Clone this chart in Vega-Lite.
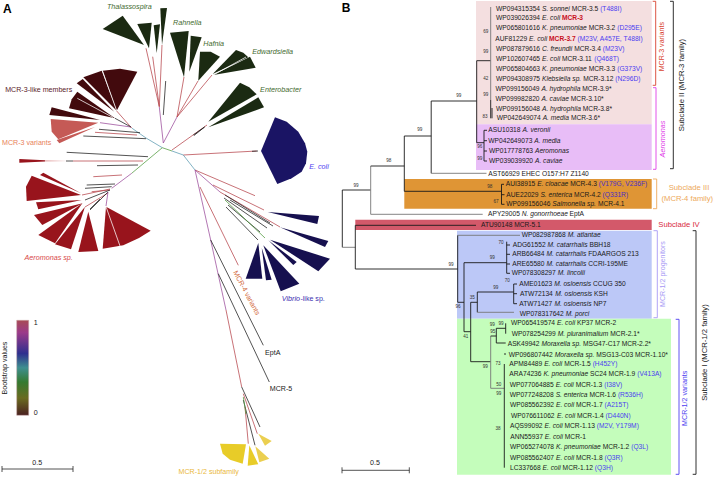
{"$schema":"https://vega.github.io/schema/vega-lite/v6.json","width":714,"height":477,"autosize":{"type":"fit","contains":"padding"},"padding":0,"background":"white","view":{"stroke":null},
"config":{"font":"Liberation Sans","text":{"font":"Liberation Sans"}},
"datasets":{
"bg":[{"x":476,"x2":651.7,"y":1,"y2":124.3,"k":"pink"},{"x":476,"x2":651.7,"y":124.3,"y2":170,"k":"pur"},{"x":404.3,"x2":651.7,"y":179,"y2":208.7,"k":"org"},{"x":355.3,"x2":651.7,"y":219.7,"y2":230,"k":"rd"},{"x":457,"x2":651.7,"y":230.7,"y2":318.7,"k":"blu"},{"x":457,"x2":671,"y":318.7,"y2":474.7,"k":"grn"}],
"poly":[
{"id":"G1","o":1,"x":144,"y":45,"k":"dg"},{"id":"G1","o":2,"x":102.7,"y":29,"k":"dg"},{"id":"G1","o":3,"x":122.7,"y":15.7,"k":"dg"},
{"id":"G2","o":1,"x":149,"y":48.3,"k":"dg"},{"id":"G2","o":2,"x":137.3,"y":24,"k":"dg"},{"id":"G2","o":3,"x":151.7,"y":22.7,"k":"dg"},
{"id":"G3","o":1,"x":156.7,"y":53.3,"k":"dg"},{"id":"G3","o":2,"x":153.7,"y":25.3,"k":"dg"},{"id":"G3","o":3,"x":160,"y":24.3,"k":"dg"},
{"id":"G4","o":1,"x":162,"y":45,"k":"dg"},{"id":"G4","o":2,"x":160.3,"y":8.3,"k":"dg"},{"id":"G4","o":3,"x":167,"y":8,"k":"dg"},
{"id":"G5","o":1,"x":184,"y":77.3,"k":"dg"},{"id":"G5","o":2,"x":170,"y":32.7,"k":"dg"},{"id":"G5","o":3,"x":188.7,"y":31,"k":"dg"},
{"id":"G6","o":1,"x":189.3,"y":71.7,"k":"dg"},{"id":"G6","o":2,"x":190.7,"y":35.7,"k":"dg"},{"id":"G6","o":3,"x":201.7,"y":37.3,"k":"dg"},
{"id":"G7","o":1,"x":198.3,"y":80.7,"k":"dg"},{"id":"G7","o":2,"x":200,"y":51.7,"k":"dg"},{"id":"G7","o":3,"x":210.7,"y":51.7,"k":"dg"},{"id":"G7","o":4,"x":220,"y":56.7,"k":"dg"},
{"id":"G8","o":1,"x":212.7,"y":74,"k":"dg"},{"id":"G8","o":2,"x":236,"y":50,"k":"dg"},{"id":"G8","o":3,"x":243.3,"y":52.7,"k":"dg"},{"id":"G8","o":4,"x":248.3,"y":57.3,"k":"dg"},
{"id":"G9","o":1,"x":213.3,"y":75,"k":"dg"},{"id":"G9","o":2,"x":250,"y":56.7,"k":"dg"},{"id":"G9","o":3,"x":255.7,"y":67.7,"k":"dg"},
{"id":"G10","o":1,"x":208.3,"y":121.7,"k":"dg"},{"id":"G10","o":2,"x":240,"y":82.7,"k":"dg"},{"id":"G10","o":3,"x":249.3,"y":87.3,"k":"dg"},{"id":"G10","o":4,"x":256.7,"y":94.3,"k":"dg"},
{"id":"G11","o":1,"x":208.3,"y":127.3,"k":"dg"},{"id":"G11","o":2,"x":258.3,"y":97.3,"k":"dg"},{"id":"G11","o":3,"x":264,"y":107.3,"k":"dg"},
{"id":"M1","o":1,"x":116.7,"y":110.7,"k":"mar"},{"id":"M1","o":2,"x":102.7,"y":70.7,"k":"mar"},{"id":"M1","o":3,"x":120,"y":68.7,"k":"mar"},{"id":"M1","o":4,"x":137.3,"y":71.7,"k":"mar"},
{"id":"M2","o":1,"x":116.7,"y":110.7,"k":"mar"},{"id":"M2","o":2,"x":83.3,"y":77.3,"k":"mar"},{"id":"M2","o":3,"x":101.7,"y":70.7,"k":"mar"},
{"id":"M3","o":1,"x":114.3,"y":111.7,"k":"mar"},{"id":"M3","o":2,"x":76.7,"y":83.3,"k":"mar"},{"id":"M3","o":3,"x":82.7,"y":79,"k":"mar"},
{"id":"M4","o":1,"x":115,"y":118.3,"k":"mar"},{"id":"M4","o":2,"x":69,"y":108.3,"k":"mar"},{"id":"M4","o":3,"x":71.7,"y":99.3,"k":"mar"},{"id":"M4","o":4,"x":77.3,"y":91.7,"k":"mar"},
{"id":"M5","o":1,"x":100,"y":120,"k":"mar"},{"id":"M5","o":2,"x":49.3,"y":115,"k":"mar"},{"id":"M5","o":3,"x":51.7,"y":107.3,"k":"mar"},
{"id":"V0","o":1,"x":98.3,"y":122.7,"k":"var"},{"id":"V0","o":2,"x":50.7,"y":119,"k":"var"},{"id":"V0","o":3,"x":51.7,"y":131.7,"k":"var"},{"id":"V0","o":4,"x":58.3,"y":139.3,"k":"var"},
{"id":"V1","o":1,"x":95,"y":127,"k":"var"},{"id":"V1","o":2,"x":56.7,"y":140,"k":"var"},{"id":"V1","o":3,"x":59.3,"y":143.3,"k":"var"},
{"id":"F1","o":1,"x":45,"y":160.3,"k":"aer"},{"id":"F1","o":2,"x":19.3,"y":159,"k":"aer"},{"id":"F1","o":3,"x":19.3,"y":162.7,"k":"aer"},{"id":"F1","o":4,"x":45,"y":161.5,"k":"aer"},
{"id":"F2","o":1,"x":68,"y":161,"k":"redl"},{"id":"F2","o":2,"x":45,"y":160.3,"k":"redl"},{"id":"F2","o":3,"x":45,"y":161.5,"k":"redl"},
{"id":"R1","o":1,"x":81,"y":195,"k":"aer"},{"id":"R1","o":2,"x":31.7,"y":175.7,"k":"aer"},{"id":"R1","o":3,"x":26,"y":186.7,"k":"aer"},{"id":"R1","o":4,"x":26.7,"y":201,"k":"aer"},
{"id":"R2","o":1,"x":81,"y":193.3,"k":"aer"},{"id":"R2","o":2,"x":40,"y":175,"k":"aer"},{"id":"R2","o":3,"x":43.3,"y":172.7,"k":"aer"},
{"id":"R3","o":1,"x":81.7,"y":200,"k":"aer"},{"id":"R3","o":2,"x":36,"y":202.3,"k":"aer"},{"id":"R3","o":3,"x":38.3,"y":209.3,"k":"aer"},
{"id":"R4","o":1,"x":82.7,"y":203.3,"k":"aer"},{"id":"R4","o":2,"x":34,"y":215,"k":"aer"},{"id":"R4","o":3,"x":42.3,"y":225,"k":"aer"},
{"id":"R5","o":1,"x":82.3,"y":203.3,"k":"aer"},{"id":"R5","o":2,"x":38.3,"y":235,"k":"aer"},{"id":"R5","o":3,"x":55,"y":243.3,"k":"aer"},
{"id":"R6","o":1,"x":85,"y":206.7,"k":"aer"},{"id":"R6","o":2,"x":55,"y":244.3,"k":"aer"},{"id":"R6","o":3,"x":71,"y":249.3,"k":"aer"},
{"id":"R7","o":1,"x":88.3,"y":211.7,"k":"aer"},{"id":"R7","o":2,"x":78.3,"y":252,"k":"aer"},{"id":"R7","o":3,"x":98.3,"y":251,"k":"aer"},
{"id":"R8","o":1,"x":106,"y":206.7,"k":"aer"},{"id":"R8","o":2,"x":102.7,"y":248.7,"k":"aer"},{"id":"R8","o":3,"x":123.3,"y":245.3,"k":"aer"},{"id":"R8","o":4,"x":139,"y":238,"k":"aer"},{"id":"R8","o":5,"x":150.7,"y":230.7,"k":"aer"},
{"id":"E","o":1,"x":261,"y":151,"k":"ec"},{"id":"E","o":2,"x":275,"y":117.3,"k":"ec"},{"id":"E","o":3,"x":286.7,"y":121.7,"k":"ec"},{"id":"E","o":4,"x":298.3,"y":131.7,"k":"ec"},{"id":"E","o":5,"x":305,"y":143.3,"k":"ec"},{"id":"E","o":6,"x":307.3,"y":151.7,"k":"ec"},{"id":"E","o":7,"x":306,"y":163.3,"k":"ec"},{"id":"E","o":8,"x":301.7,"y":171.7,"k":"ec"},{"id":"E","o":9,"x":291.7,"y":178.3,"k":"ec"},{"id":"E","o":10,"x":277.3,"y":184,"k":"ec"},
{"id":"B1","o":1,"x":267.7,"y":212,"k":"vib"},{"id":"B1","o":2,"x":319,"y":216,"k":"vib"},{"id":"B1","o":3,"x":317.3,"y":224,"k":"vib"},
{"id":"B2","o":1,"x":280,"y":227.3,"k":"vib"},{"id":"B2","o":2,"x":328.3,"y":241,"k":"vib"},{"id":"B2","o":3,"x":325,"y":247,"k":"vib"},
{"id":"B3","o":1,"x":270,"y":239.7,"k":"vib"},{"id":"B3","o":2,"x":330,"y":258.7,"k":"vib"},{"id":"B3","o":3,"x":318.3,"y":271.3,"k":"vib"},
{"id":"B4","o":1,"x":268.3,"y":240.3,"k":"vib"},{"id":"B4","o":2,"x":296.7,"y":262,"k":"vib"},{"id":"B4","o":3,"x":293.3,"y":265,"k":"vib"},
{"id":"B5","o":1,"x":263.3,"y":245.3,"k":"vib"},{"id":"B5","o":2,"x":299.3,"y":283.7,"k":"vib"},{"id":"B5","o":3,"x":280.7,"y":291.3,"k":"vib"},
{"id":"B6","o":1,"x":261.7,"y":247.7,"k":"vib"},{"id":"B6","o":2,"x":271.7,"y":279.7,"k":"vib"},{"id":"B6","o":3,"x":266,"y":280.3,"k":"vib"},
{"id":"B7","o":1,"x":258.3,"y":243,"k":"vib"},{"id":"B7","o":2,"x":262.3,"y":278.7,"k":"vib"},{"id":"B7","o":3,"x":245.7,"y":278.7,"k":"vib"},
{"id":"Y1","o":1,"x":246,"y":444.3,"k":"yl"},{"id":"Y1","o":2,"x":220,"y":443.7,"k":"yl"},{"id":"Y1","o":3,"x":222.7,"y":453.7,"k":"yl"},{"id":"Y1","o":4,"x":230,"y":459.7,"k":"yl"},{"id":"Y1","o":5,"x":242.7,"y":463.7,"k":"yl"},
{"id":"Y2","o":1,"x":249.3,"y":445.3,"k":"yl"},{"id":"Y2","o":2,"x":258.3,"y":464.3,"k":"yl"},{"id":"Y2","o":3,"x":247.7,"y":465.7,"k":"yl"},
{"id":"Y3","o":1,"x":255.3,"y":446.3,"k":"yl2"},{"id":"Y3","o":2,"x":269.3,"y":458.7,"k":"yl2"},{"id":"Y3","o":3,"x":259.3,"y":462.3,"k":"yl2"},
{"id":"Y4","o":1,"x":258.3,"y":433.7,"k":"yl2"},{"id":"Y4","o":2,"x":271.7,"y":441,"k":"yl2"},{"id":"Y4","o":3,"x":265,"y":445.7,"k":"yl2"}
],
"atree":[
{"x":163.3,"y":143,"x2":159.3,"y2":107,"k":"p"},{"x":159.3,"y":106.7,"x2":146,"y2":48.3,"k":"r"},{"x":159.3,"y":106.7,"x2":152.7,"y2":56.7,"k":"r"},{"x":159.3,"y":106.7,"x2":162,"y2":45,"k":"r"},{"x":165.7,"y":81,"x2":163.3,"y2":115,"k":"k"},
{"x":163.3,"y":143,"x2":177,"y2":117,"k":"p"},{"x":177,"y":117,"x2":184,"y2":77,"k":"r"},{"x":177,"y":117,"x2":198,"y2":81,"k":"r"},{"x":177,"y":117,"x2":212,"y2":75,"k":"r"},
{"x":172,"y":150,"x2":207,"y2":125,"k":"r"},{"x":193.3,"y":135,"x2":205,"y2":126.7,"k":"k"},{"x":194,"y":135.5,"x2":204,"y2":127.5,"k":"k"},
{"x":162.3,"y":147.7,"x2":172,"y2":151,"k":"g"},{"x":172,"y":151,"x2":183.3,"y2":155,"k":"t"},{"x":183.3,"y":155,"x2":256.7,"y2":151,"k":"r"},{"x":252,"y":151.3,"x2":258,"y2":151,"k":"k"},{"x":183.3,"y":155,"x2":195,"y2":170,"k":"t"},
{"x":195,"y":170,"x2":255,"y2":195.7,"k":"r"},{"x":195,"y":170,"x2":220,"y2":192,"k":"p"},{"x":213,"y":185,"x2":264,"y2":210,"k":"r"},{"x":220,"y":192,"x2":280,"y2":227,"k":"r"},
{"x":225,"y":195,"x2":270,"y2":223,"k":"k"},{"x":224,"y":198,"x2":267,"y2":228,"k":"k"},{"x":228,"y":205,"x2":260,"y2":232,"k":"k"},{"x":226,"y":207,"x2":258,"y2":240,"k":"k"},{"x":230,"y":200,"x2":273,"y2":226,"k":"k"},{"x":225,"y":200,"x2":265,"y2":238,"k":"g"},
{"x":195,"y":170,"x2":210,"y2":237,"k":"p"},{"x":210,"y":237,"x2":226,"y2":310,"k":"p"},{"x":226,"y":310,"x2":241.7,"y2":387,"k":"r"},{"x":200,"y":187,"x2":238.3,"y2":265.3,"k":"r"},
{"x":210.7,"y":240,"x2":263.3,"y2":345.3,"k":"k"},{"x":218.3,"y":273.7,"x2":269.3,"y2":382,"k":"k"},
{"x":241.7,"y":387,"x2":260,"y2":427,"k":"k"},{"x":243.3,"y":393.7,"x2":257.3,"y2":433.7,"k":"r"},{"x":243.3,"y":400,"x2":255,"y2":445.3,"k":"k"},{"x":245,"y":407,"x2":248.3,"y2":443.7,"k":"r"},{"x":243.3,"y":397,"x2":246,"y2":414,"k":"g"},
{"x":162.3,"y":147.7,"x2":131.7,"y2":173.3,"k":"g"},{"x":131.7,"y":173.3,"x2":111.7,"y2":188.3,"k":"p"},
{"x":110,"y":189,"x2":82,"y2":195,"k":"r"},{"x":86.7,"y":185,"x2":115,"y2":184,"k":"k"},{"x":85,"y":188.3,"x2":111.7,"y2":186.7,"k":"k"},{"x":91.7,"y":191.7,"x2":110,"y2":190,"k":"r"},{"x":110,"y":190,"x2":85,"y2":200,"k":"k"},{"x":108,"y":193,"x2":85,"y2":207,"k":"r"},{"x":108,"y":192,"x2":90,"y2":210,"k":"k"},{"x":100,"y":199,"x2":90,"y2":209,"k":"k"},{"x":108,"y":192,"x2":106,"y2":206,"k":"p"},
{"x":93.3,"y":176.7,"x2":122,"y2":175,"k":"r"},{"x":97,"y":165.7,"x2":138,"y2":165,"k":"k"},{"x":66.7,"y":152.3,"x2":148,"y2":156.7,"k":"k"},{"x":73,"y":161,"x2":143,"y2":161,"k":"r"},{"x":66,"y":161,"x2":73,"y2":161,"k":"k"},
{"x":162.3,"y":147.7,"x2":146,"y2":138,"k":"t"},{"x":146,"y":138,"x2":131.7,"y2":128,"k":"t"},{"x":131.7,"y":128,"x2":116.7,"y2":111,"k":"r"},{"x":83.3,"y":136,"x2":146,"y2":138.7,"k":"k"},{"x":95,"y":132.3,"x2":137,"y2":135,"k":"r"},{"x":99,"y":129.3,"x2":140,"y2":132.7,"k":"k"},{"x":100,"y":122.7,"x2":131,"y2":127,"k":"p"},{"x":115,"y":118.3,"x2":131,"y2":127,"k":"k"},
{"x":2,"y":469,"x2":73,"y2":469,"k":"k"},{"x":2,"y":466,"x2":2,"y2":472,"k":"k"},{"x":73,"y":466,"x2":73,"y2":472,"k":"k"},
{"x":342,"y":470.3,"x2":409.3,"y2":470.3,"k":"k"},{"x":342,"y":467.3,"x2":342,"y2":473.3,"k":"k"},{"x":409.3,"y":467.3,"x2":409.3,"y2":473.3,"k":"k"},
{"x":116.7,"y":110.7,"x2":102.4,"y2":70.7,"k":"w"},{"x":113,"y":117.5,"x2":77.3,"y2":98.3,"k":"w"},{"x":106,"y":206.7,"x2":120,"y2":246,"k":"w"},{"x":213.3,"y":75,"x2":246,"y2":57,"k":"w"}
],
"btree":[
{"x":342.3,"y":190,"x2":342.3,"y2":247.3,"k":"k"},{"x":342.3,"y":190,"x2":370.7,"y2":190,"k":"k"},{"x":342.3,"y":247.3,"x2":355.3,"y2":247.3,"k":"gr"},{"x":370.7,"y":166,"x2":370.7,"y2":214.3,"k":"gr"},{"x":370.7,"y":166,"x2":404.3,"y2":166,"k":"k"},{"x":370.7,"y":214.3,"x2":482.7,"y2":214.3,"k":"gr"},{"x":404.3,"y":136,"x2":404.3,"y2":191.3,"k":"k"},{"x":404.3,"y":136,"x2":431.2,"y2":136,"k":"k"},{"x":404.3,"y":191.3,"x2":501.5,"y2":191.3,"k":"k"},{"x":501.5,"y":184.3,"x2":501.5,"y2":204.3,"k":"k"},{"x":501.5,"y":184.3,"x2":504,"y2":184.3,"k":"k"},{"x":501.5,"y":194.7,"x2":504.5,"y2":194.7,"k":"k"},{"x":501.5,"y":204.3,"x2":504.5,"y2":204.3,"k":"k"},
{"x":431.2,"y":101,"x2":431.2,"y2":173.3,"k":"k"},{"x":431.2,"y":101,"x2":476.7,"y2":101,"k":"k"},{"x":431.2,"y":173.3,"x2":486.5,"y2":173.3,"k":"gr"},{"x":476.7,"y":60.7,"x2":476.7,"y2":142.7,"k":"k"},{"x":476.7,"y":60.7,"x2":490.7,"y2":60.7,"k":"k"},{"x":476.7,"y":142.7,"x2":484,"y2":142.7,"k":"k"},
{"x":490.7,"y":7,"x2":490.7,"y2":100,"k":"gr"},{"x":490.7,"y":100,"x2":490.7,"y2":118.3,"k":"k"},{"x":492,"y":108,"x2":492,"y2":118.3,"k":"k"},
{"x":484,"y":130.3,"x2":484,"y2":161,"k":"k"},{"x":484,"y":130.3,"x2":487,"y2":130.3,"k":"k"},{"x":484,"y":140.7,"x2":487,"y2":140.7,"k":"k"},{"x":484,"y":151,"x2":487,"y2":151,"k":"k"},{"x":484,"y":161,"x2":487,"y2":161,"k":"k"},
{"x":355.3,"y":225.3,"x2":355.3,"y2":269,"k":"k"},{"x":355.3,"y":225.3,"x2":476,"y2":225.3,"k":"k"},{"x":355.3,"y":269,"x2":457.7,"y2":269,"k":"k"},{"x":457.7,"y":235.3,"x2":457.7,"y2":302.3,"k":"k"},{"x":457.7,"y":235.3,"x2":520,"y2":235.3,"k":"gr"},{"x":457.7,"y":302.3,"x2":464,"y2":302.3,"k":"k"},{"x":464,"y":262.7,"x2":464,"y2":331.7,"k":"k"},{"x":464,"y":262.7,"x2":506.7,"y2":262.7,"k":"k"},{"x":464,"y":331.7,"x2":470.7,"y2":331.7,"k":"k"},
{"x":506.7,"y":241.7,"x2":506.7,"y2":273.3,"k":"k"},{"x":506.7,"y":245,"x2":510,"y2":245,"k":"k"},{"x":506.7,"y":254.3,"x2":510,"y2":254.3,"k":"k"},{"x":506.7,"y":264,"x2":510,"y2":264,"k":"k"},{"x":506.7,"y":273.3,"x2":510,"y2":273.3,"k":"k"},
{"x":470.7,"y":302.3,"x2":470.7,"y2":361.7,"k":"k"},{"x":470.7,"y":302.3,"x2":477.3,"y2":302.3,"k":"k"},{"x":477.3,"y":292,"x2":477.3,"y2":312.3,"k":"k"},{"x":477.3,"y":292,"x2":513.7,"y2":292,"k":"k"},{"x":477.3,"y":312.3,"x2":514,"y2":312.3,"k":"gr"},{"x":513.7,"y":284,"x2":513.7,"y2":303.7,"k":"k"},{"x":513.7,"y":284,"x2":517,"y2":284,"k":"k"},{"x":513.7,"y":293.7,"x2":517,"y2":293.7,"k":"k"},{"x":513.7,"y":303.7,"x2":517,"y2":303.7,"k":"k"},
{"x":470.7,"y":361.7,"x2":490.7,"y2":361.7,"k":"k"},{"x":490.7,"y":336,"x2":490.7,"y2":388.3,"k":"gr"},{"x":490.7,"y":336,"x2":496.3,"y2":336,"k":"k"},{"x":496.3,"y":328.3,"x2":496.3,"y2":343,"k":"k"},{"x":496.3,"y":328.3,"x2":505.7,"y2":328.3,"k":"k"},{"x":496.3,"y":343,"x2":505.7,"y2":343,"k":"k"},{"x":505.7,"y":323.3,"x2":505.7,"y2":333.7,"k":"k"},{"x":490.7,"y":388.3,"x2":504.3,"y2":388.3,"k":"gr"},{"x":504.3,"y":364,"x2":504.3,"y2":467.7,"k":"k"},{"x":504,"y":354,"x2":506,"y2":354,"k":"k"},
{"x":655.7,"y":1.3,"x2":655.7,"y2":85.3,"k":"tmv"},{"x":652.7,"y":1.3,"x2":655.7,"y2":1.3,"k":"tmv"},{"x":652.7,"y":85.3,"x2":655.7,"y2":85.3,"k":"tmv"},
{"x":656,"y":87.7,"x2":656,"y2":169.3,"k":"tae"},{"x":653,"y":87.7,"x2":656,"y2":87.7,"k":"tae"},{"x":653,"y":169.3,"x2":656,"y2":169.3,"k":"tae"},
{"x":673.3,"y":1.3,"x2":673.3,"y2":168.7,"k":"k"},{"x":670,"y":1.3,"x2":673.3,"y2":1.3,"k":"k"},{"x":670,"y":168.7,"x2":673.3,"y2":168.7,"k":"k"},
{"x":656.7,"y":179,"x2":656.7,"y2":208.7,"k":"tsIII"},{"x":653,"y":179,"x2":656.7,"y2":179,"k":"tsIII"},{"x":653,"y":208.7,"x2":656.7,"y2":208.7,"k":"tsIII"},
{"x":657.3,"y":230.7,"x2":657.3,"y2":317.7,"k":"tpro"},{"x":653.5,"y":230.7,"x2":657.3,"y2":230.7,"k":"tpro"},{"x":653.5,"y":317.7,"x2":657.3,"y2":317.7,"k":"tpro"},
{"x":679,"y":319.3,"x2":679,"y2":474.3,"k":"tmv12"},{"x":675.7,"y":319.3,"x2":679,"y2":319.3,"k":"tmv12"},{"x":675.7,"y":474.3,"x2":679,"y2":474.3,"k":"tmv12"},
{"x":696,"y":230.7,"x2":696,"y2":474.3,"k":"k"},{"x":692.7,"y":230.7,"x2":696,"y2":230.7,"k":"k"},{"x":692.7,"y":474.3,"x2":696,"y2":474.3,"k":"k"}
],
"sup":[{"x":356,"y":186,"t":"99"},{"x":388.7,"y":160.7,"t":"98"},{"x":419.7,"y":130.3,"t":"99"},{"x":489.7,"y":186.7,"t":"98"},{"x":496,"y":202,"t":"67"},{"x":458.7,"y":96.3,"t":"99"},{"x":485.7,"y":31.7,"t":"69"},{"x":485.7,"y":52,"t":"99"},{"x":485.7,"y":78.7,"t":"42"},{"x":485.7,"y":95,"t":"99"},{"x":485,"y":117,"t":"83"},{"x":479.7,"y":147,"t":"96"},{"x":479.7,"y":159.3,"t":"99"},{"x":451,"y":265,"t":"99"},{"x":458,"y":307.3,"t":"96"},{"x":465.7,"y":337.3,"t":"41"},{"x":492.3,"y":258.3,"t":"99"},{"x":472.3,"y":297.7,"t":"35"},{"x":495.7,"y":287.7,"t":"99"},{"x":507.3,"y":281,"t":"70"},{"x":501,"y":242.7,"t":"70"},{"x":485.3,"y":367,"t":"99"},{"x":492.7,"y":331.7,"t":"95"},{"x":492.3,"y":325.3,"t":"99"},{"x":501,"y":324,"t":"99"},{"x":498.7,"y":384.7,"t":"50"},{"x":498.7,"y":394,"t":"99"},{"x":498,"y":364.3,"t":"73"},{"x":498,"y":429.3,"t":"38"}],
"lab":[
{"x":496,"y":8.7,"t":"WP094315354","k":"k","f":"n"},{"x":541.98,"y":8.7,"t":"S. sonnei","k":"k","f":"i"},{"x":571.64,"y":8.7,"t":"MCR-3.5","k":"k","f":"n"},{"x":600.14,"y":8.7,"t":"(T488I)","k":"mut","f":"n"},
{"x":496,"y":18.3,"t":"WP039026394","k":"k","f":"n"},{"x":541.98,"y":18.3,"t":"E. coli","k":"k","f":"i"},{"x":561.98,"y":18.3,"t":"MCR-3","k":"redb","f":"b"},
{"x":496,"y":28,"t":"WP065801616","k":"k","f":"n"},{"x":541.98,"y":28,"t":"K. pneumoniae","k":"k","f":"i"},{"x":588.68,"y":28,"t":"MCR-3.2","k":"k","f":"n"},{"x":617.18,"y":28,"t":"(D295E)","k":"mut","f":"n"},
{"x":495.3,"y":38.7,"t":"AUF81229","k":"k","f":"n"},{"x":529.04,"y":38.7,"t":"E. coli","k":"k","f":"i"},{"x":549.04,"y":38.7,"t":"MCR-3.7","k":"redb","f":"b"},{"x":577.54,"y":38.7,"t":"(M23V, A457E, T488I)","k":"mut","f":"n"},
{"x":496,"y":48.7,"t":"WP087879616","k":"k","f":"n"},{"x":541.98,"y":48.7,"t":"C. freundii","k":"k","f":"i"},{"x":574.23,"y":48.7,"t":"MCR-3.4","k":"k","f":"n"},{"x":602.73,"y":48.7,"t":"(M23V)","k":"mut","f":"n"},
{"x":496,"y":59,"t":"WP102607465","k":"k","f":"n"},{"x":541.98,"y":59,"t":"E. coli","k":"k","f":"i"},{"x":561.98,"y":59,"t":"MCR-3.11","k":"k","f":"n"},{"x":594.18,"y":59,"t":"(Q468T)","k":"mut","f":"n"},
{"x":496,"y":68.7,"t":"WP065804663","k":"k","f":"n"},{"x":541.98,"y":68.7,"t":"K. pneumoniae","k":"k","f":"i"},{"x":588.68,"y":68.7,"t":"MCR-3.3","k":"k","f":"n"},{"x":617.18,"y":68.7,"t":"(G373V)","k":"mut","f":"n"},
{"x":496,"y":78.7,"t":"WP094308975","k":"k","f":"n"},{"x":541.98,"y":78.7,"t":"Klebsiella sp.","k":"k","f":"i"},{"x":583.13,"y":78.7,"t":"MCR-3.12","k":"k","f":"n"},{"x":615.33,"y":78.7,"t":"(N296D)","k":"mut","f":"n"},
{"x":495.5,"y":89,"t":"WP099156049","k":"k","f":"n"},{"x":541.48,"y":89,"t":"A. hydrophila","k":"k","f":"i"},{"x":582.28,"y":89,"t":"MCR-3.9*","k":"k","f":"n"},
{"x":495.5,"y":98.7,"t":"WP099982820","k":"k","f":"n"},{"x":541.48,"y":98.7,"t":"A. caviae","k":"k","f":"i"},{"x":570.78,"y":98.7,"t":"MCR-3.10*","k":"k","f":"n"},
{"x":496,"y":108.7,"t":"WP099156048","k":"k","f":"n"},{"x":541.98,"y":108.7,"t":"A. hydrophila","k":"k","f":"i"},{"x":582.78,"y":108.7,"t":"MCR-3.8*","k":"k","f":"n"},
{"x":496.7,"y":118.3,"t":"WP042649074","k":"k","f":"n"},{"x":542.68,"y":118.3,"t":"A. media","k":"k","f":"i"},{"x":570.88,"y":118.3,"t":"MCR-3.6*","k":"k","f":"n"},
{"x":488.3,"y":130.3,"t":"ASU10318","k":"k","f":"n"},{"x":522.4,"y":130.3,"t":"A. veronii","k":"k","f":"i"},
{"x":488.3,"y":140.7,"t":"WP042649073","k":"k","f":"n"},{"x":534.28,"y":140.7,"t":"A. media","k":"k","f":"i"},
{"x":489,"y":151,"t":"WP017778763","k":"k","f":"n"},{"x":534.98,"y":151,"t":"Aeromonas","k":"k","f":"i"},
{"x":489,"y":161,"t":"WP039039920","k":"k","f":"n"},{"x":534.98,"y":161,"t":"A. caviae","k":"k","f":"i"},
{"x":488.3,"y":174.3,"t":"AST66929 EHEC O157:H7 Z1140","k":"k","f":"n"},
{"x":505.7,"y":184.3,"t":"AUI38915","k":"k","f":"n"},{"x":537.2,"y":184.3,"t":"E. cloacae","k":"k","f":"i"},{"x":570.2,"y":184.3,"t":"MCR-4.3","k":"k","f":"n"},{"x":598.7,"y":184.3,"t":"(V179G, V236F)","k":"mut2","f":"n"},
{"x":506.3,"y":194.7,"t":"AUE22029","k":"k","f":"n"},{"x":540.4,"y":194.7,"t":"S. enterica","k":"k","f":"i"},{"x":574.1,"y":194.7,"t":"MCR-4.2","k":"k","f":"n"},{"x":602.6,"y":194.7,"t":"(Q331R)","k":"mut2","f":"n"},
{"x":506.3,"y":204.3,"t":"WP099156046","k":"k","f":"n"},{"x":552.28,"y":204.3,"t":"Salmonella sp.","k":"k","f":"i"},{"x":597.88,"y":204.3,"t":"MCR-4.1","k":"k","f":"n"},
{"x":488,"y":214.3,"t":"APY29005","k":"k","f":"n"},{"x":521.7,"y":214.3,"t":"N. gonorrhoeae","k":"k","f":"i"},{"x":569.6,"y":214.3,"t":"EptA","k":"k","f":"n"},
{"x":481,"y":225.3,"t":"ATU90148 MCR-5.1","k":"k","f":"n"},
{"x":521.7,"y":235.3,"t":"WP082987868","k":"k","f":"n"},{"x":567.68,"y":235.3,"t":"M. atlantae","k":"k","f":"i"},
{"x":512.7,"y":245,"t":"ADG61552","k":"k","f":"n"},{"x":547.55,"y":245,"t":"M. catarrhalis","k":"k","f":"i"},{"x":589.45,"y":245,"t":"BBH18","k":"k","f":"n"},
{"x":512.3,"y":254.3,"t":"ARB66484","k":"k","f":"n"},{"x":546.4,"y":254.3,"t":"M. catarrhalis","k":"k","f":"i"},{"x":588.3,"y":254.3,"t":"FDAARGOS 213","k":"k","f":"n"},
{"x":512.3,"y":264,"t":"ARE65580","k":"k","f":"n"},{"x":546.4,"y":264,"t":"M. catarrhalis","k":"k","f":"i"},{"x":588.3,"y":264,"t":"CCRI-195ME","k":"k","f":"n"},
{"x":511.7,"y":273.3,"t":"WP078308297","k":"k","f":"n"},{"x":557.68,"y":273.3,"t":"M. lincolii","k":"k","f":"i"},
{"x":519.3,"y":284,"t":"AME01623","k":"k","f":"n"},{"x":554.15,"y":284,"t":"M. osloensis","k":"k","f":"i"},{"x":593.05,"y":284,"t":"CCUG 350","k":"k","f":"n"},
{"x":520,"y":293.7,"t":"ATW72134","k":"k","f":"n"},{"x":555.2,"y":293.7,"t":"M. osloensis","k":"k","f":"i"},{"x":594.1,"y":293.7,"t":"KSH","k":"k","f":"n"},
{"x":519.3,"y":303.7,"t":"ATW71427","k":"k","f":"n"},{"x":554.5,"y":303.7,"t":"M. osloensis","k":"k","f":"i"},{"x":593.4,"y":303.7,"t":"NP7","k":"k","f":"n"},
{"x":519.7,"y":314,"t":"WP078317642","k":"k","f":"n"},{"x":565.68,"y":314,"t":"M. porci","k":"k","f":"i"},
{"x":511,"y":323.3,"t":"WP065419574","k":"k","f":"n"},{"x":556.98,"y":323.3,"t":"E. coli","k":"k","f":"i"},{"x":576.98,"y":323.3,"t":"KP37 MCR-2","k":"k","f":"n"},
{"x":511.7,"y":333.7,"t":"WP078254299","k":"k","f":"n"},{"x":557.68,"y":333.7,"t":"M. pluranimalium","k":"k","f":"i"},{"x":610.28,"y":333.7,"t":"MCR-2.1*","k":"k","f":"n"},
{"x":507.7,"y":344.3,"t":"ASK49942","k":"k","f":"n"},{"x":541.4,"y":344.3,"t":"Moraxella sp.","k":"k","f":"i"},{"x":582.9,"y":344.3,"t":"MSG47-C17 MCR-2.2*","k":"k","f":"n"},
{"x":508.7,"y":354.7,"t":"WP096807442","k":"k","f":"n"},{"x":554.68,"y":354.7,"t":"Moraxella sp.","k":"k","f":"i"},{"x":596.18,"y":354.7,"t":"MSG13-C03 MCR-1.10*","k":"k","f":"n"},
{"x":509.3,"y":364.3,"t":"APM84489","k":"k","f":"n"},{"x":544.15,"y":364.3,"t":"E. coli","k":"k","f":"i"},{"x":564.15,"y":364.3,"t":"MCR-1.5","k":"k","f":"n"},{"x":592.65,"y":364.3,"t":"(H452Y)","k":"mut","f":"n"},
{"x":509.3,"y":374.3,"t":"ARA74236","k":"k","f":"n"},{"x":543.4,"y":374.3,"t":"K. pneumoniae","k":"k","f":"i"},{"x":590.1,"y":374.3,"t":"SC24 MCR-1.9","k":"k","f":"n"},{"x":637.17,"y":374.3,"t":"(V413A)","k":"mut","f":"n"},
{"x":509.7,"y":384.7,"t":"WP077064885","k":"k","f":"n"},{"x":555.68,"y":384.7,"t":"E. coli","k":"k","f":"i"},{"x":575.68,"y":384.7,"t":"MCR-1.3","k":"k","f":"n"},{"x":604.18,"y":384.7,"t":"(I38V)","k":"mut","f":"n"},
{"x":509.7,"y":394.7,"t":"WP077248208","k":"k","f":"n"},{"x":555.68,"y":394.7,"t":"S. enterica","k":"k","f":"i"},{"x":589.38,"y":394.7,"t":"MCR-1.6","k":"k","f":"n"},{"x":617.88,"y":394.7,"t":"(R536H)","k":"mut","f":"n"},
{"x":510,"y":405,"t":"WP085562392","k":"k","f":"n"},{"x":555.98,"y":405,"t":"E. coli","k":"k","f":"i"},{"x":575.98,"y":405,"t":"MCR-1.7","k":"k","f":"n"},{"x":604.48,"y":405,"t":"(A215T)","k":"mut","f":"n"},
{"x":511,"y":415.7,"t":"WP076611062","k":"k","f":"n"},{"x":556.98,"y":415.7,"t":"E. coli","k":"k","f":"i"},{"x":576.98,"y":415.7,"t":"MCR-1.4","k":"k","f":"n"},{"x":605.48,"y":415.7,"t":"(D440N)","k":"mut","f":"n"},
{"x":510,"y":426,"t":"AQS99092","k":"k","f":"n"},{"x":544.5,"y":426,"t":"E. coli","k":"k","f":"i"},{"x":564.5,"y":426,"t":"MCR-1.13","k":"k","f":"n"},{"x":596.7,"y":426,"t":"(M2V, Y179M)","k":"mut","f":"n"},
{"x":510.3,"y":437,"t":"ANN55937","k":"k","f":"n"},{"x":544.8,"y":437,"t":"E. coli","k":"k","f":"i"},{"x":564.8,"y":437,"t":"MCR-1","k":"k","f":"n"},
{"x":510,"y":447.3,"t":"WP065274078","k":"k","f":"n"},{"x":555.98,"y":447.3,"t":"K. pneumoniae","k":"k","f":"i"},{"x":602.68,"y":447.3,"t":"MCR-1.2","k":"k","f":"n"},{"x":631.18,"y":447.3,"t":"(Q3L)","k":"mut","f":"n"},
{"x":510,"y":457.7,"t":"WP085562407","k":"k","f":"n"},{"x":555.98,"y":457.7,"t":"E. coli","k":"k","f":"i"},{"x":575.98,"y":457.7,"t":"MCR-1.8","k":"k","f":"n"},{"x":604.48,"y":457.7,"t":"(Q3R)","k":"mut","f":"n"},
{"x":510,"y":467.7,"t":"LC337668","k":"k","f":"n"},{"x":542.6,"y":467.7,"t":"E. coli","k":"k","f":"i"},{"x":562.6,"y":467.7,"t":"MCR-1.12","k":"k","f":"n"},{"x":594.8,"y":467.7,"t":"(Q3H)","k":"mut","f":"n"}
],
"ann":[
{"x":129.3,"y":6.7,"t":"Thalassospira","k":"tgreen","f":"i","a":0},{"x":187.3,"y":23.3,"t":"Rahnella","k":"tgreen","f":"i","a":0},{"x":213.7,"y":44.3,"t":"Hafnia","k":"tgreen","f":"i","a":0},{"x":272.7,"y":52,"t":"Edwardsiella","k":"tgreen","f":"i","a":0},{"x":280.7,"y":90.3,"t":"Enterobacter","k":"tgreen","f":"i","a":0},
{"x":38.7,"y":90.3,"t":"MCR-3-like members","k":"tmar","f":"n","a":0},{"x":26.7,"y":142.7,"t":"MCR-3 variants","k":"tvar","f":"n","a":0},{"x":319,"y":167,"t":"E. coli","k":"tec","f":"i","a":0},{"x":48.7,"y":257.7,"t":"Aeromonas sp.","k":"taer","f":"i","a":0},
{"x":290.9,"y":298.7,"t":"Vibrio","k":"tvib","f":"i","a":0},{"x":312.6,"y":298.7,"t":"-like sp.","k":"tvib","f":"n","a":0},
{"x":246.3,"y":293,"t":"MCR-4 variants","k":"tm4","f":"n","a":62},{"x":208.7,"y":471.7,"t":"MCR-1/2 subfamily","k":"tyl","f":"n","a":0},{"x":272.7,"y":352.7,"t":"EptA","k":"k","f":"n","a":0},{"x":281,"y":388.7,"t":"MCR-5","k":"k","f":"n","a":0},
{"x":37.3,"y":463,"t":"0.5","k":"k","f":"n","a":0},{"x":375,"y":463.3,"t":"0.5","k":"k","f":"n","a":0},
{"x":5.3,"y":368,"t":"Bootstrap values","k":"k","f":"n","a":270},{"x":35.7,"y":323,"t":"1","k":"k","f":"n","a":0},{"x":35.7,"y":413,"t":"0","k":"k","f":"n","a":0},
{"x":662,"y":46.7,"t":"MCR-3 variants","k":"tmv","f":"n","a":270},{"x":662.7,"y":139,"t":"Aeromonas","k":"tae","f":"i","a":270},{"x":663.3,"y":274,"t":"MCR-1/2 progenitors","k":"tpro","f":"n","a":270},{"x":685,"y":398.3,"t":"MCR-1/2 variants","k":"tmv12","f":"n","a":270},
{"x":681.7,"y":85,"t":"Subclade II (MCR-3 family)","k":"k","f":"L","a":270},{"x":705,"y":352.5,"t":"Subclade I (MCR-1/2 family)","k":"k","f":"L","a":270},{"x":689,"y":188.3,"t":"Subclade III","k":"tsIII","f":"L","a":0},{"x":687.3,"y":198.7,"t":"(MCR-4 family)","k":"tsIII","f":"L","a":0},{"x":679,"y":225.3,"t":"Subclade IV","k":"tsIV","f":"L","a":0}
]},
"encoding":{
"x":{"field":"x","type":"quantitative","scale":{"domain":[0,714],"nice":false,"zero":false},"axis":null},
"y":{"field":"y","type":"quantitative","scale":{"domain":[477,0],"nice":false,"zero":false},"axis":null},
"color":{"field":"k","type":"nominal","legend":null,"scale":{
"domain":["pink","pur","org","rd","blu","grn","dg","mar","var","aer","redl","ec","vib","yl","yl2","k","gr","r","p","t","g","w","mut","mut2","redb","tgreen","tmar","tvar","tec","taer","tvib","tm4","tyl","tmv","tae","tpro","tmv12","tsIII","tsIV"],
"range":["#f4dfe0","#e8bdf7","#df9535","#d3596a","#bcc8f7","#c4fdbb","#1b2a12","#420a0d","#c55a56","#98141c","#e3a8a8","#1a1464","#16104f","#e8cc28","#ebcf50","#1a1a1a","#777777","#b5434a","#9a4a9a","#5a9ab0","#4f9a3c","#ffffff","#4b3df0","#4a2fc0","#c8101c","#3f6b2f","#5a1a2a","#e8825a","#5040f0","#d84848","#3a2fb0","#d2693c","#eab83a","#d9432f","#e040e8","#a89af5","#4e3ef0","#eda95b","#d92b3f"]}}},
"layer":[
{"data":{"name":"bg"},"mark":{"type":"rect"},"encoding":{"x2":{"field":"x2"},"y2":{"field":"y2"}}},
{"data":{"name":"poly"},"mark":{"type":"line","filled":true,"strokeWidth":0,"interpolate":"linear-closed"},"encoding":{"detail":{"field":"id"},"order":{"field":"o"}}},
{"data":{"name":"atree"},"mark":{"type":"rule","strokeWidth":0.75},"encoding":{"x2":{"field":"x2"},"y2":{"field":"y2"}}},
{"data":{"name":"btree"},"mark":{"type":"rule","strokeWidth":0.9},"encoding":{"x2":{"field":"x2"},"y2":{"field":"y2"}}},
{"data":{"values":[{"x":16.7,"x2":28.7,"y":320.3,"y2":415.3}]},"mark":{"type":"rect","stroke":"#c9a9a9","strokeWidth":0.5},"encoding":{"x2":{"field":"x2"},"y2":{"field":"y2"},"color":{"value":{"gradient":"linear","x1":0,"y1":0,"x2":0,"y2":1,"stops":[{"offset":0,"color":"#a84a55"},{"offset":0.13,"color":"#9b3a8a"},{"offset":0.35,"color":"#2e2f8e"},{"offset":0.5,"color":"#3f8f8f"},{"offset":0.65,"color":"#357a30"},{"offset":0.82,"color":"#6a6a20"},{"offset":1,"color":"#4a2020"}]}}}},
{"data":{"name":"sup"},"mark":{"type":"text","fontSize":4.6,"align":"center","baseline":"middle"},"encoding":{"text":{"field":"t"},"color":{"value":"#333333"}}},
{"data":{"name":"lab"},"transform":[{"filter":"datum.f=='n'"}],"mark":{"type":"text","fontSize":6.67,"align":"left","baseline":"middle"},"encoding":{"text":{"field":"t"}}},
{"data":{"name":"lab"},"transform":[{"filter":"datum.f=='i'"}],"mark":{"type":"text","fontSize":6.67,"fontStyle":"italic","align":"left","baseline":"middle"},"encoding":{"text":{"field":"t"}}},
{"data":{"name":"lab"},"transform":[{"filter":"datum.f=='b'"}],"mark":{"type":"text","fontSize":6.67,"fontWeight":"bold","align":"left","baseline":"middle"},"encoding":{"text":{"field":"t"}}},
{"data":{"name":"ann"},"transform":[{"filter":"datum.f=='n'"}],"mark":{"type":"text","fontSize":7.1,"align":"center","baseline":"middle"},"encoding":{"text":{"field":"t"},"angle":{"field":"a","type":"quantitative","scale":null}}},
{"data":{"name":"ann"},"transform":[{"filter":"datum.f=='i'"}],"mark":{"type":"text","fontSize":7.2,"fontStyle":"italic","align":"center","baseline":"middle"},"encoding":{"text":{"field":"t"},"angle":{"field":"a","type":"quantitative","scale":null}}},
{"data":{"name":"ann"},"transform":[{"filter":"datum.f=='L'"}],"mark":{"type":"text","fontSize":7.7,"align":"center","baseline":"middle"},"encoding":{"text":{"field":"t"},"angle":{"field":"a","type":"quantitative","scale":null}}},
{"data":{"values":[{"x":7.3,"y":8.7,"t":"A"},{"x":346,"y":8.3,"t":"B"}]},"mark":{"type":"text","fontSize":12,"fontWeight":"bold","align":"center","baseline":"middle"},"encoding":{"text":{"field":"t"},"color":{"value":"#000000"}}}
]}
